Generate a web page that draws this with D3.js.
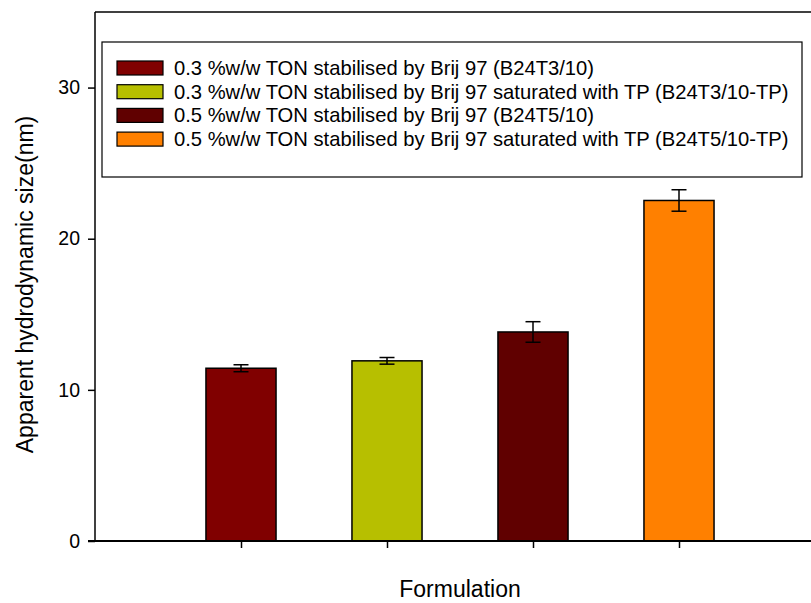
<!DOCTYPE html>
<html lang="en">
<head>
  <meta charset="UTF-8">
  <title>Apparent hydrodynamic size</title>
  <style>
    body { margin: 0; background: #fff; }
    svg text { font-family: "Liberation Sans", Arial, sans-serif; fill: #000; }
  </style>
</head>
<body>
  <svg id="chart"></svg>

  <script src="https://d3js.org/d3.v7.min.js"></script>
  <script>
    // data
    const labels = [
      "0.3 %w/w TON stabilised by Brij 97 (B24T3/10)",
      "0.3 %w/w TON stabilised by Brij 97 saturated with TP (B24T3/10-TP)",
      "0.5 %w/w TON stabilised by Brij 97 (B24T5/10)",
      "0.5 %w/w TON stabilised by Brij 97 saturated with TP (B24T5/10-TP)"
    ];
    const positions = [1, 2, 3, 4];
    const sizes = [11.43, 11.92, 13.83, 22.53];
    const errors = [0.23, 0.22, 0.68, 0.71];
    const colors = ["#800000", "#b7bf00", "#600000", "#ff8000"];
    const yTicks = [0, 10, 20, 30];

    const svgWidth = 811;
    const svgHeight = 603;
    const margin = { top: 12, left: 95, bottom: 62 };
    const plotWidth = 730;   // runs past the right edge, like the original
    const height = svgHeight - margin.top - margin.bottom;

    const svg = d3.select("#chart")
      .attr("width", svgWidth)
      .attr("height", svgHeight);

    const g = svg.append("g")
      .attr("transform", `translate(${margin.left},${margin.top})`);

    const x = d3.scaleLinear().domain([0, 5]).range([0, plotWidth]);
    const y = d3.scaleLinear().domain([0, 35]).range([height, 0]);
    const barW = x(0.48) - x(0);

    // frame: left and top lines
    g.append("line")
      .attr("x1", 0).attr("x2", 0).attr("y1", 0).attr("y2", height)
      .attr("stroke", "#000").attr("stroke-width", 1.5);
    g.append("line")
      .attr("x1", 0).attr("x2", plotWidth).attr("y1", 0).attr("y2", 0)
      .attr("stroke", "#000").attr("stroke-width", 1.5);

    // bars
    g.selectAll(".bar")
      .data(sizes)
      .enter().append("rect")
      .attr("class", "bar")
      .attr("x", (d, i) => x(positions[i]) - barW / 2)
      .attr("y", d => y(d))
      .attr("width", barW)
      .attr("height", d => y(0) - y(d))
      .attr("fill", (d, i) => colors[i])
      .attr("stroke", "#000")
      .attr("stroke-width", 1.5);

    // error bars
    const capW = 15;
    const err = g.selectAll(".err")
      .data(sizes)
      .enter().append("g")
      .attr("class", "err")
      .attr("stroke", "#000")
      .attr("stroke-width", 1.5);
    err.append("line")
      .attr("x1", (d, i) => x(positions[i])).attr("x2", (d, i) => x(positions[i]))
      .attr("y1", (d, i) => y(d + errors[i])).attr("y2", (d, i) => y(d - errors[i]));
    err.append("line")
      .attr("x1", (d, i) => x(positions[i]) - capW / 2).attr("x2", (d, i) => x(positions[i]) + capW / 2)
      .attr("y1", (d, i) => y(d + errors[i])).attr("y2", (d, i) => y(d + errors[i]));
    err.append("line")
      .attr("x1", (d, i) => x(positions[i]) - capW / 2).attr("x2", (d, i) => x(positions[i]) + capW / 2)
      .attr("y1", (d, i) => y(d - errors[i])).attr("y2", (d, i) => y(d - errors[i]));

    // y axis
    const yAxis = g.append("g")
      .call(d3.axisLeft(y).tickValues(yTicks).tickSize(7).tickPadding(8));
    yAxis.select(".domain").remove();
    yAxis.selectAll("line").attr("stroke", "#000").attr("stroke-width", 1.5);
    yAxis.selectAll("text").style("font-size", "19.5px").attr("fill", "#000");

    // x axis
    const xAxis = g.append("g")
      .attr("transform", `translate(0,${height})`)
      .call(d3.axisBottom(x).tickValues(positions).tickSize(7).tickFormat(""));
    xAxis.select(".domain").remove();
    xAxis.selectAll("line").attr("stroke", "#000").attr("stroke-width", 1.5);
    g.append("line")
      .attr("x1", -7).attr("x2", plotWidth).attr("y1", height).attr("y2", height)
      .attr("stroke", "#000").attr("stroke-width", 2);

    // axis titles
    svg.append("text")
      .attr("x", margin.left + x(2.5))
      .attr("y", 597)
      .attr("text-anchor", "middle")
      .style("font-size", "23px")
      .text("Formulation");
    svg.append("text")
      .attr("transform", `translate(33,${margin.top + height / 2 + 8}) rotate(-90)`)
      .attr("text-anchor", "middle")
      .style("font-size", "23px")
      .text("Apparent hydrodynamic size(nm)");

    // legend
    const legend = svg.append("g")
      .attr("transform", "translate(102,42)");
    legend.append("rect")
      .attr("width", 700).attr("height", 135)
      .attr("fill", "#fff").attr("stroke", "#000").attr("stroke-width", 1.2);
    const items = legend.selectAll(".item")
      .data(labels)
      .enter().append("g")
      .attr("class", "item")
      .attr("transform", (d, i) => `translate(15,${26 + i * 23.7})`);
    items.append("rect")
      .attr("x", 0).attr("y", -7)
      .attr("width", 46).attr("height", 14)
      .attr("fill", (d, i) => colors[i])
      .attr("stroke", "#000").attr("stroke-width", 1.2);
    items.append("text")
      .attr("x", 57).attr("y", 7)
      .style("font-size", "20.2px")
      .text(d => d);
  </script>
</body>
</html>
